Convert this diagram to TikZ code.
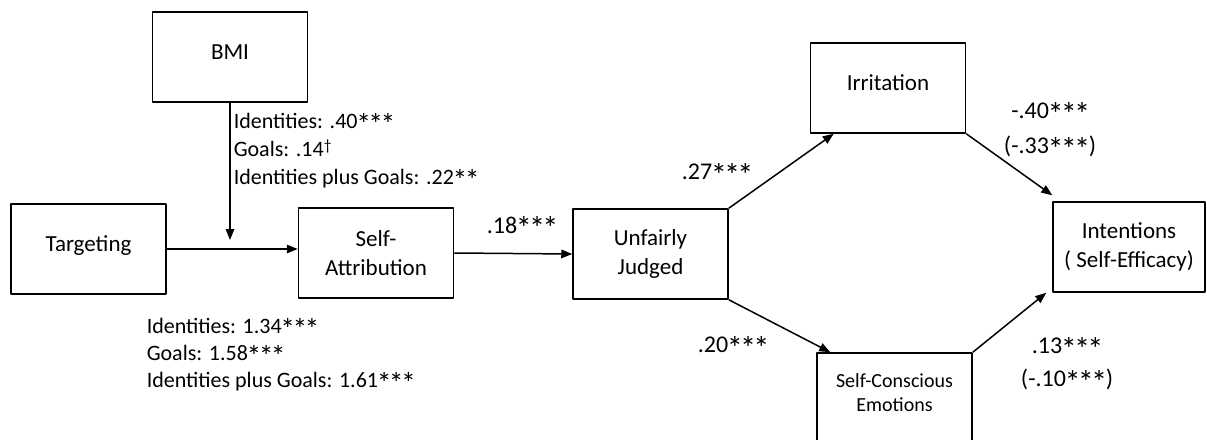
\documentclass[tikz,border=0pt]{standalone}
\usepackage{fontspec}
\usepackage{graphicx}
\setmainfont{Carlito}
\usetikzlibrary{arrows.meta}
\newcommand{\astr}{\kern-0.06em\smash{\raisebox{-0.27em}{\scalebox{1.35}{*}}}\kern-0.06em}
\newcommand{\dagr}{\smash{\raisebox{0.3em}{\scalebox{0.7}{\textdagger}}}}

\begin{document}
\begin{tikzpicture}[->,>={Triangle[length=11pt,width=8.5pt]},line join=round,x=1pt,y=-1pt,line width=1.5pt,font=\fontsize{23}{29}\selectfont]
	\tikzset{
		box/.style={draw,rectangle,minimum width=155pt,minimum height=90pt,align=center,inner sep=2pt},
		raise/.style={text depth=10pt},
		lbl/.style={inner sep=0pt,align=left,font=\fontsize{22}{28}\selectfont},
		coef/.style={inner sep=0pt,align=center,font=\fontsize{24}{29}\selectfont}
	}
	\def\three{\astr\astr\astr}
	\useasboundingbox (0,0) rectangle (1207,439);
	\clip (0,0) rectangle (1207,439);
	\node[box,raise] (BMI) at (230,57){BMI};
	\node[box,raise] (Targeting) at (88.5,249){Targeting};
	\node[box] (SelfAttr) at (376,253){Self-\\Attribution};
	\node[box] (Unfairly) at (650.5,254){Unfairly\\Judged};
	\node[box,raise] (Irritation) at (888,88){Irritation};
	\node[box,minimum width=152pt] (Intentions) at (1129,247){Intentions\\( Self-Efficacy)};
	\node[box,raise,font=\fontsize{20}{24}\selectfont] (SelfCon) at (894.5,398){Self-Conscious\\Emotions};
	\coordinate (join) at (230,240);
	\coordinate (attrIn) at (Targeting.east -| SelfAttr.west);
	\coordinate (irrIn) at ([xshift=24pt]Irritation.south west);
	\coordinate (conIn) at ([xshift=14pt]SelfCon.north west);
	\coordinate (intTop) at ([yshift=6pt]Intentions.north west);
	\coordinate (intBot) at ([xshift=-6pt]Intentions.south west);
	\draw (BMI.south)--(join) node[lbl,anchor=west] at (233,151){Identities: .40\three\\Goals: .14\dagr\\Identities plus Goals: .22\astr\astr};
	\draw (Targeting.east)--(attrIn) node[lbl,anchor=west,font=\fontsize{22}{27}\selectfont] at (146,355){Identities: 1.34\three\\Goals: 1.58\three\\Identities plus Goals: 1.61\three};
	\draw (SelfAttr.east)--(Unfairly.west) node[coef] at (522,225){.18\three};
	\draw (Unfairly.north east)--(irrIn) node[coef] at (717,172){.27\three};
	\draw (Unfairly.south east)--(conIn) node[coef] at (733,345){.20\three};
	\draw (Irritation.south east)--(intTop) node[coef] at (1050,130){-.40\three\\[6pt](-.33\three)};
	\draw (SelfCon.north east)--(intBot) node[coef] at (1067,364){.13\three\\[4pt](-.10\three)};
\end{tikzpicture}
\end{document}
